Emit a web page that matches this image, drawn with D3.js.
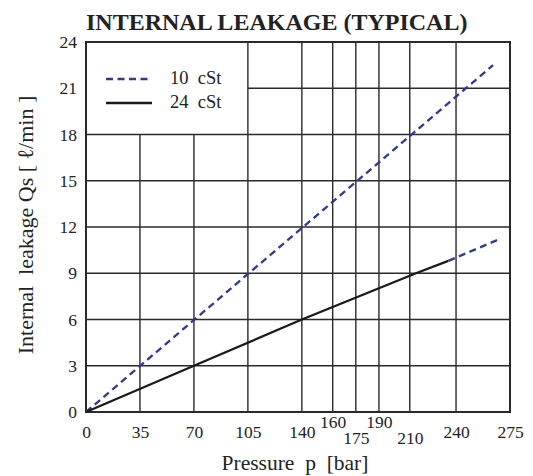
<!DOCTYPE html>
<html><head><meta charset="utf-8">
<script src="https://cdn.jsdelivr.net/npm/d3@7"></script>
<style>body{margin:0;background:#fff}svg{display:block}text{font-family:"Liberation Serif","Times New Roman",serif;fill:#222}</style>
</head><body><div id="chart"></div>
<script>
const title = "INTERNAL LEAKAGE (TYPICAL)";
const xTicks = [0, 35, 70, 105, 140, 160, 175, 190, 210, 240, 275];
const xTickRaise = [0, 0, 0, 0, 0, 1, -1, 1, -1, 0, 0];
const yTicks = [0, 3, 6, 9, 12, 15, 18, 21, 24];
const seriesNames = ["10  cSt", "24  cSt"];
const s10 = [[0, 0], [264, 22.5]];
const s24Solid = [[0, 0], [70, 3], [140, 6], [214, 9], [235, 9.8]];
const s24Dashed = [[235, 9.8], [269, 11.25]];

const W = 533, H = 476;
const m = {l: 86, r: 23, t: 42, b: 64};
const svg = d3.select("#chart").append("svg").attr("width", W).attr("height", H);
const x = d3.scaleLinear().domain([0, 275]).range([m.l, W - m.r]);
const y = d3.scaleLinear().domain([0, 24]).range([H - m.b, m.t]);
const blue = "#2e3a94", grid = "#2a2a2a";

// grid (legend area masked)
const g = svg.append("g");
const legX = 105, legY = 18;
xTicks.forEach(v => {
  if (v === 0 || v === 275) return;
  const top = v < legX ? y(legY) : y(24);
  g.append("line").attr("x1", x(v)).attr("x2", x(v)).attr("y1", top).attr("y2", y(0))
    .attr("stroke", grid).attr("stroke-width", 1.4);
});
yTicks.forEach(v => {
  if (v === 0 || v === 24) return;
  const left = v > legY ? x(legX) : x(0);
  g.append("line").attr("x1", left).attr("x2", x(275)).attr("y1", y(v)).attr("y2", y(v))
    .attr("stroke", grid).attr("stroke-width", 1.4);
});
svg.append("rect").attr("x", x(0)).attr("y", y(24)).attr("width", x(275) - x(0)).attr("height", y(0) - y(24))
  .attr("fill", "none").attr("stroke", grid).attr("stroke-width", 2);

// axes via d3 axis, styled
const xAxis = d3.axisBottom(x).tickValues(xTicks).tickSize(0).tickFormat(d3.format("d"));
const xa = svg.append("g").attr("transform", `translate(0,${y(0)})`).call(xAxis);
xa.select(".domain").remove();
xa.selectAll("text").attr("font-size", 17.5).attr("fill", "#222")
  .attr("dy", null).attr("y", (d, i) => 26 - xTickRaise[i] * (xTickRaise[i] > 0 ? 10 : 6));
const yAxis = d3.axisLeft(y).tickValues(yTicks).tickSize(0).tickPadding(9);
const ya = svg.append("g").attr("transform", `translate(${x(0)},0)`).call(yAxis);
ya.select(".domain").remove();
ya.selectAll("text").attr("font-size", 17.5).attr("fill", "#222");
svg.selectAll("g").attr("font-family", null);

// lines
const line = d3.line().x(d => x(d[0])).y(d => y(d[1]));
svg.append("path").datum(s10).attr("d", line).attr("fill", "none").attr("stroke", blue)
  .attr("stroke-width", 2.3).attr("stroke-dasharray", "7,4.5");
svg.append("path").datum(s24Solid).attr("d", line).attr("fill", "none").attr("stroke", "#1a1a1a")
  .attr("stroke-width", 2.3);
svg.append("path").datum(s24Dashed).attr("d", line).attr("fill", "none").attr("stroke", blue)
  .attr("stroke-width", 2.3).attr("stroke-dasharray", "7,4.5");

// legend
const lg = svg.append("g");
[[blue, "7,4.5"], ["#1a1a1a", null]].forEach((s, i) => {
  const yy = 79 + i * 24;
  lg.append("line").attr("x1", 106).attr("x2", 152).attr("y1", yy).attr("y2", yy)
    .attr("stroke", s[0]).attr("stroke-width", 2.3).attr("stroke-dasharray", s[1]);
  lg.append("text").attr("x", 170).attr("y", yy + 5).attr("font-size", 18.5)
    .style("white-space", "pre").attr("xml:space", "preserve").text(seriesNames[i]);
});

// title & labels
svg.append("text").attr("x", 86).attr("y", 30).attr("font-size", 24).attr("font-weight", "bold")
  .attr("fill", "#222").text(title);
svg.append("text").attr("x", 295).attr("y", 470).attr("text-anchor", "middle").attr("font-size", 21.5)
  .style("white-space", "pre").attr("xml:space", "preserve").text("Pressure  p  [bar]");
svg.append("text").attr("transform", "translate(33,225) rotate(-90)").attr("text-anchor", "middle")
  .attr("font-size", 22).style("white-space", "pre").attr("xml:space", "preserve")
  .text("Internal  leakage Qs [ ℓ/min ]");
</script></body></html>
